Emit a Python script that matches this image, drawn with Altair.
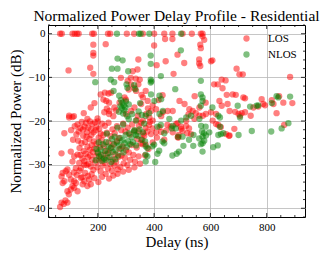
import altair as alt
import pandas as pd

# ---- data ----
los_top = [(66,0),(72,0),(110,0),(118,0),(126,0),(132,0),(180,0),(186,0),(236,0),(244,0),(303,0),(329,0),
           (360,0),(400,0),(436,0),(465,0),(501,0),(534,0),(566,0),(572,0),(439,-1.2),(465,-1.2),(572,-0.6),(578,-1.4)]
los_upper = [(184,-2.5),(184,-4.4),(184,-5.0),(228,-2.4),(96,-8.4),(173,-7.8),(184,-9.2),(400,-2.7),(564,-2.5),
             (566,-3.3),(344,-5.9),(341,-8.2),(483,-4.8),(507,-6.7),(441,-6.3),(409,-7.2),(560,-5.9),(560,-6.8),
             (564,-7.4),(607,-6.1),(469,-9.2),(349,-10.5),(344,-11.6),(370,-13.1),(282,-10.1),(317,-10.1),
             (225,-13.5),(238,-13.7),(240,-15.8),(544,-14.3),(583,-15.8),(613,-11.6),(548,-18.2),(522,-18.5),
             (306,-10.8),(324,-8.6),(318,-11.6),(336,-13.1),(310,-12.8),(330,-12.5),(335,-10.3),(602,-6.3),
             (626,-11.6),(632,-15.4),(679,-13.9)]
los_right = [(693,-8),(715,-9.3),(883,-9.9),(640,-10.5),(654,-10.7),(643,-12.5),(658,-14),(690,-14),(717,-14.6),
             (723,-14.8),(640,-16.5),(661,-16.1),(782,-15),(788,-16.1),(818,-15.2),(824,-16.1),(844,-14.3),
             (859,-15.8),(891,-15.9),(753,-16.9),(770,-16.7),(794,-16.4),(835,-18.2),(688,-17.9),(700,-18.4),
             (711,-18.2),(705,-18.8),(723,-18),(743,-18.8),(628,-20.9),(685,-21.8),(666,-23.4),(862,-20.9),
             (703,-9.3),(668,-17.7),(620,-18.4),(608,-19.9),(620,-20.7),(637,-21.4),(656,-23),(668,-23.3)]
los_mid = [(360,-14.6),(377,-15.4),(389,-17.7),(407,-17.3),(431,-18),(448,-17.7),(466,-17.7),(490,-15.4),
           (508,-16.1),(525,-17.3),(537,-17.7),(561,-16.9),(573,-18.8),(584,-18.4),(602,-18),(383,-19.2),
           (395,-19.9),(372,-18.4),(478,-20.7),(496,-21.8),(514,-21.1),(531,-23),(484,-23.7),(466,-22.6),
           (443,-22.2),(419,-21.4),(407,-22.6),(389,-23),(514,-19.9),(543,-19.5),(561,-18.8),(487,-23.2),
           (486,-23.8),(501,-22.3),(495,-21.3),(518,-22.8),(524,-21.7),(483,-20.5),(459,-21.3),(447,-20.9),
           (436,-24.3),(394,-21.7),(382,-20.9),(376,-22.4),(345,-22.4),(370,-25.4),(359,-25.3),
           (247,-13.5),(230,-15.4),(241,-17.7),(259,-16.9),(277,-15.8),(295,-14.6),(300,-18.4),(318,-17.7),
           (330,-16.9),(342,-18.8),(354,-16.1),(360,-19.9),(378,-17.1),(395,-16.4),(355,-14),(416,-15.2),
           (425,-18.9),(430,-14.1)]
los_left = [(71,-38.7),(66,-39.7),(79,-39),(85,-38.2),(92,-38.7),(97,-36.8),(92,-36.1),(104,-35.7),(110,-34.9),
            (116,-35.3),(128,-36.1),(122,-34.2),(116,-33.8),(104,-33.4),(75,-31.9),(71,-32.7),(81,-33.8),
            (75,-34.2),(92,-31.1),(86,-31.5),(98,-32.3),(140,-33),(152,-33.8),(146,-34.5),(163,-34.9),
            (175,-34.5),(169,-33.4),(202,-34),(71,-27.4),(81,-22.8),(104,-27),(116,-28.1),(128,-27.7),
            (110,-29.3),(134,-29.6),(140,-30.8),(122,-30.8),(152,-30),(98,-18.8),(98,-19.2),(163,-19.5),
            (199,-19.4),(223,-18),(240,-18.4),(115,-18.9),(110,-19.1),(150,-18.2),(175,-16.9),(188,-15.9),
            (210,-13.9),(220,-15.1),(232,-17.2),(255,-18.9),(265,-17.6),(300,-15.1)]
los_cluster = [(130,-24.5),(135,-26.2),(138,-27.8),(142,-25.1),(145,-28.6),(148,-23.4),(150,-26.9),(152,-29.2),
               (155,-24.8),(157,-27.5),(160,-30.1),(162,-22.6),(163,-25.9),(165,-28.3),(167,-29.8),(170,-24.1),
               (171,-26.6),(173,-27.9),(175,-30.4),(177,-23.2),(178,-25.5),(180,-28.9),(182,-27.1),(184,-31.2),
               (186,-24.7),(188,-26.3),(190,-29.5),(192,-22.1),(194,-28.1),(196,-25.2),(198,-30.6),(200,-27.4),
               (203,-23.8),(205,-29.1),(207,-26),(210,-31.5),(212,-28.6),(214,-24.4),(217,-30.2),(220,-27.7),
               (222,-25.6),(225,-29.6),(228,-32.1),(230,-26.8),(233,-28.4),(236,-30.9),(238,-24.9),(241,-27.3),
               (245,-29.9),(248,-26.1),(250,-31.4),(253,-28.8),(256,-25.3),(259,-30.2),(262,-27.6),(265,-29.4),
               (268,-24.6),(271,-31.1),(274,-28.2),(277,-26.4),(280,-30.5),(284,-27.9),(288,-25.8),(292,-29.7),
               (296,-28.4),(300,-26.7),(305,-30.1),(310,-27.2),(315,-28.9),(320,-25.5),(326,-27.8),(332,-29.3),
               (338,-26.1),(345,-28.1),(352,-25.1),(358,-24.2),(365,-23.4),
               (105,-22.1),(112,-24.3),(118,-21.2),(124,-23.1),(128,-20.8),(132,-22.4),(138,-21.6),(143,-20.2),
               (147,-22),(153,-21.3),(158,-20.4),(160,-23.6),(166,-21.5),(172,-20.1),(176,-21.9),(180,-20.7),
               (185,-22.6),(190,-20.3),(195,-21.4),(200,-20.1),(205,-21.8),(210,-22.9),(215,-20.6),(220,-23.2),
               (225,-21.1),(232,-22.7),(238,-20.4),(245,-23.5),(252,-21.9),(260,-22.8),(268,-21.2),(275,-23.9),
               (283,-22.1),(290,-20.6),(298,-22.4),(306,-21.5),(314,-23.1),(322,-20.8),(330,-22.2),(338,-19.8),
               (346,-21.1),(354,-20.4),(362,-22.9),
               (115,-31.8),(125,-32.4),(135,-31.4),(145,-32.9),(155,-31.9),(165,-32.6),(178,-32.2),(188,-33.1),
               (215,-32.8),(240,-33.2),(255,-32.5),(270,-32.1),(290,-31.6),(310,-31.2),(330,-30.6),(350,-29.8),
               (368,-27.9),(380,-26.4),(395,-24.9),(410,-23.8),(425,-22.5),(340,-24.1),(370,-21.6),(385,-20.2)]

nlos_top = [(268,0),(346,0),(352,0),(383,0),(496,0)]
nlos_upper = [(191,-11.1),(270,-5.7),(288,-6.1),(250,-8),(270,-8),(308,-8.6),(246,-10.5),(258,-11.1),
              (302,-11.6),(305,-12.4),(256,-13.1),(276,-14.2),(388,-5),(388,-6.9),(495,-3.8),(424,-9.7),
              (388,-10.5),(390,-10.9),(388,-11.2),(329,-11.8),(333,-12.7),(475,-12.7),(566,-10.8),(566,-13.9),
              (572,-14.6),(572,-15.4),(566,-16.5),(607,-16.9),(382,-18.2),(370,-18.8),
              (282,-15.2),(288,-15.8),(292,-16.4),(285,-17.1),(295,-17.6),(300,-15.5),(290,-18.3),(298,-16.9),
              (280,-16.6),(305,-18.9),(275,-17.9),(310,-16.2),(419,-14.2),(425,-15),(401,-15.4),(389,-13.9)]
nlos_right = [(697,-16.5),(741,-16.7),(764,-16.5),(770,-16.4),(818,-15.9),(835,-14.3),(841,-14.6),(883,-14.4),
              (705,-19.2),(628,-18.8),(634,-19.2),(634,-21.3),(646,-22.8),(628,-23.2),(700,-23.2),(747,-22.3),
              (816,-22.4),(853,-21.7),(877,-20.5)]
nlos_mid = [(370,-29.3),(404,-29.4),(376,-28.1),(370,-27.7),(412,-27.5),(418,-26.8),(465,-27.9),(480,-27.5),
            (488,-27),(504,-25.7),(539,-25.7),(566,-25.3),(572,-25.1),(572,-27),(610,-26),(560,-24),(572,-23.6),
            (570,-22.4),(583,-21.3),(577,-22.8),(524,-24.3),(540,-23.2),(501,-23.6),(485,-23.6),(463,-21.7),
            (477,-21.7),(436,-22.8),(430,-24.7),(436,-25.1),(412,-21.3),(424,-20.9),(394,-25.8),(400,-25.4),
            (370,-25.8),(376,-26.2),(368,-24.7),(335,-23.2),(329,-22.4),
            (419,-18.4),(431,-17.7),(454,-19.5),(466,-21.1),(496,-19.9),(514,-19.2),(531,-18.8),(561,-19.5),
            (567,-21.1),(584,-23.3),(578,-24.5),(596,-22.6),(626,-25.6),(637,-23)]
nlos_cluster = [(200,-27.2),(205,-28.1),(210,-26.5),(212,-27.8),(218,-25.3),(222,-28.6),(225,-26.9),(230,-24.8),
                (235,-27.4),(238,-25.9),(242,-28.3),(245,-26.2),(250,-24.1),(253,-27.1),(257,-25.4),(260,-23.6),
                (263,-26.7),(268,-24.9),(272,-27.9),(276,-25.6),(280,-23.9),(283,-26.3),(287,-24.4),(291,-27.2),
                (295,-25.1),(299,-23.2),(303,-26),(307,-24.6),(311,-22.8),(315,-25.3),(320,-23.7),(325,-24.9),
                (330,-22.1),(336,-25.6),(342,-23.4),(348,-21.9),(355,-24.3),(360,-22.6),(365,-20.6),(215,-29.1),
                (228,-28.9),(248,-29.4),(262,-28.8),(195,-26.4),(203,-24.9),(193,-29),(232,-22.9),(270,-21.5),
                (290,-20.8),(310,-19.6),(322,-18.4),(345,-17.8),(335,-19.9),(356,-18.6),(350,-15.9)]

x_major = [200, 400, 600, 800]
x_minor = [50, 100, 150, 250, 300, 350, 450, 500, 550, 650, 700, 750, 850, 900]
y_major = [0, -10, -20, -30, -40]
y_minor = [2, -2, -4, -6, -8, -12, -14, -16, -18, -22, -24, -26, -28, -32, -34, -36, -38, -42]

# ---- build table ----
rows = []
for grp in [los_top, los_upper, los_right, los_mid, los_left, los_cluster]:
    rows += [{"delay": a, "power": b, "type": "LOS"} for a, b in grp]
for grp in [nlos_top, nlos_upper, nlos_right, nlos_mid, nlos_cluster]:
    rows += [{"delay": a, "power": b, "type": "NLOS"} for a, b in grp]
df = pd.DataFrame(rows)

W, H = 257, 192
FONT = "Liberation Serif"
xs = alt.Scale(domain=[23, 936], nice=False, zero=False)
ys = alt.Scale(domain=[-42, 2], nice=False, zero=False)
x_axis = alt.Axis(values=x_major, ticks=False, domain=False, grid=True, labelPadding=4, titlePadding=2)
y_axis = alt.Axis(values=y_major, ticks=False, domain=False, grid=True, labelPadding=3, titlePadding=4)
XT = "Delay (ns)"
YT = "Normalized Power (dB)"

points = alt.Chart(df).mark_circle(size=40, opacity=0.5, strokeWidth=0).encode(
    x=alt.X("delay:Q", scale=xs, title=XT, axis=x_axis),
    y=alt.Y("power:Q", scale=ys, title=YT, axis=y_axis),
    color=alt.Color("type:N", scale=alt.Scale(domain=["LOS", "NLOS"], range=["#ff0000", "#008000"]),
                    legend=alt.Legend(title=None, orient="none", legendX=193, legendY=8,
                                      symbolType="circle", symbolSize=40, symbolOpacity=0.5,
                                      symbolStrokeWidth=0, labelOffset=16, rowPadding=4,
                                      labelFont=FONT, labelFontSize=11, padding=0)),
)

def ticks(vals, side, length):
    d = pd.DataFrame({"v": vals})
    base = alt.Chart(d).mark_rule(color="black", strokeWidth=0.8)
    if side == "bottom":
        return base.encode(x=alt.X("v:Q", scale=xs, title=XT, axis=x_axis), y=alt.value(H), y2=alt.value(H - length))
    if side == "top":
        return base.encode(x=alt.X("v:Q", scale=xs, title=XT, axis=x_axis), y=alt.value(0), y2=alt.value(length))
    if side == "left":
        return base.encode(y=alt.Y("v:Q", scale=ys, title=YT, axis=y_axis), x=alt.value(0), x2=alt.value(length))
    return base.encode(y=alt.Y("v:Q", scale=ys, title=YT, axis=y_axis), x=alt.value(W), x2=alt.value(W - length))

layers = [points]
for side in ["bottom", "top"]:
    layers.append(ticks(x_major, side, 4))
    layers.append(ticks(x_minor, side, 2))
for side in ["left", "right"]:
    layers.append(ticks(y_major, side, 4))
    layers.append(ticks(y_minor, side, 2))

chart = alt.layer(*layers).properties(
    width=W, height=H,
    title=alt.TitleParams("Normalized Power Delay Profile - Residential", font=FONT, fontSize=15.5,
                          fontWeight="normal", color="black", offset=0),
    autosize=alt.AutoSizeParams(type="none"),
    padding={"left": 40, "top": 17, "right": 21, "bottom": 35},
).configure_view(stroke="black", strokeWidth=1).configure_axis(
    labelFont=FONT, labelFontSize=11, labelColor="black", titleFont=FONT, titleFontSize=15,
    titleFontWeight="normal", titleColor="black", gridColor="#b8b8b8", gridWidth=0.8,
)

chart.save("out.html", embed_options={"renderer": "svg", "actions": False})
